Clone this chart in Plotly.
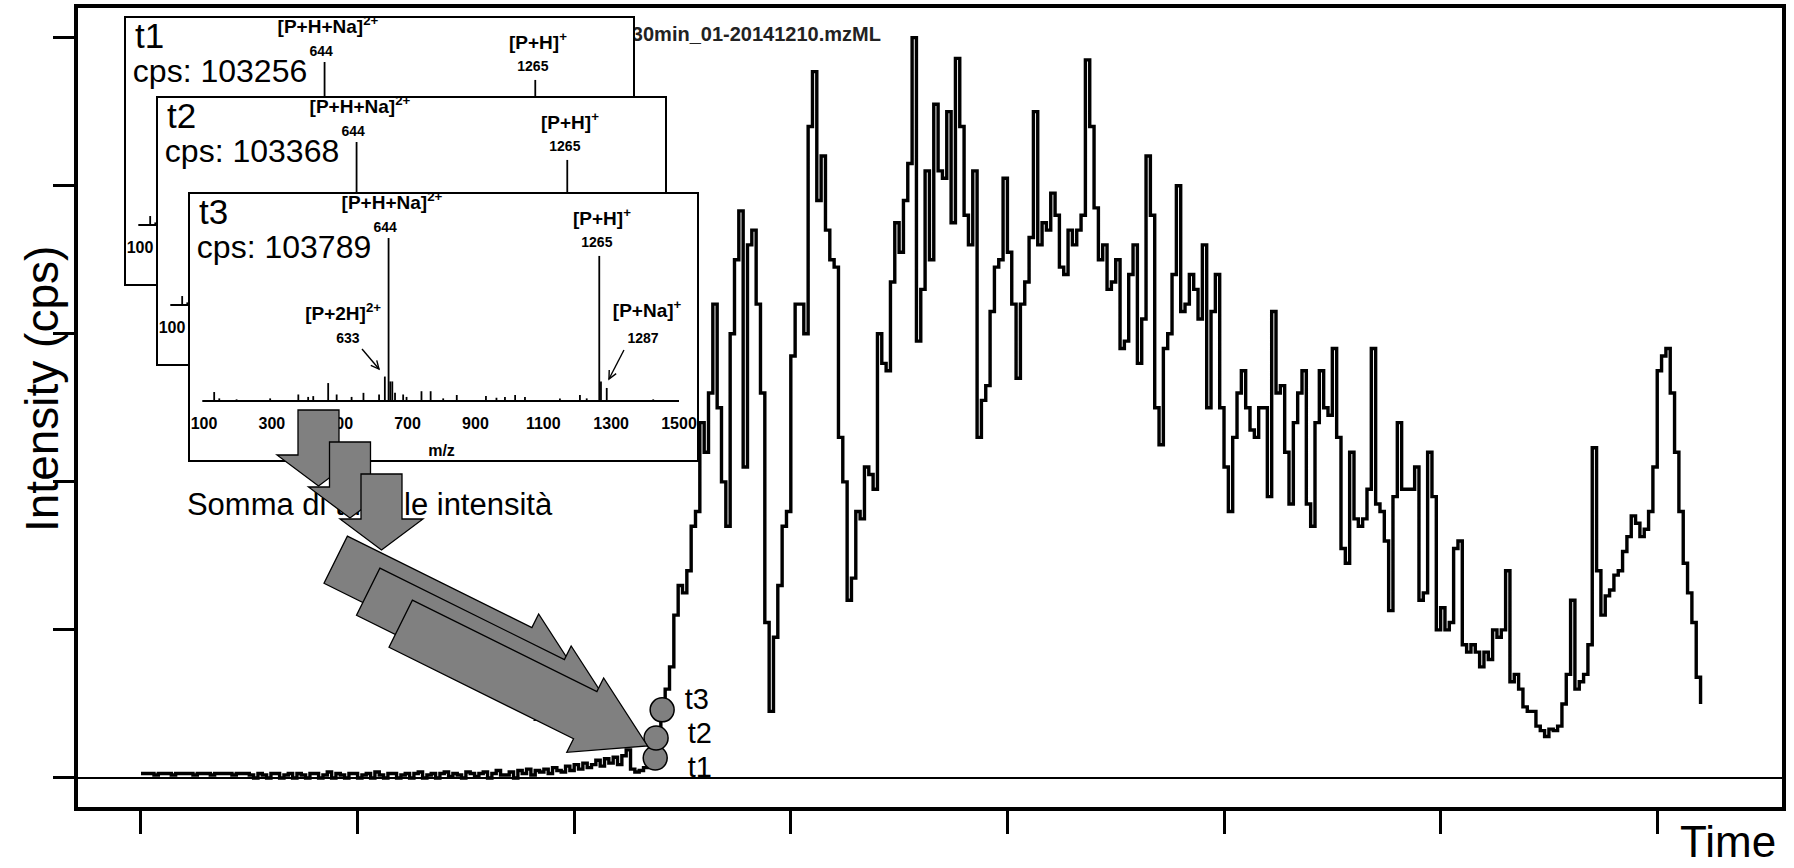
import math
import plotly.graph_objects as go

W, H = 1794, 868

# ---------------- data ----------------
# Total ion chromatogram: one value every 0.1 min, stored as segments (start time, values)
scan_interval_min = 0.1
tic_segment_start = [0.0, 2.6, 8.4, 11.7, 16.4, 23.6, 31.0]
tic_seg_a = [0.03, 0.03, 0.03, 0.02, 0.03, 0.03, 0.03, 0.02, 0.03, 0.03, 0.03, 0.03, 0.02,
             0.03, 0.03, 0.03, 0.02, 0.03, 0.03, 0.03, 0.03, 0.02, 0.03, 0.03, 0.03, 0.02]
tic_seg_b = [0.0, 0.03, 0.02, 0.0, 0.03, 0.03, 0.0, 0.02, 0.03, 0.0,
             0.03, 0.02, 0.0, 0.03, 0.03, 0.0, 0.02, 0.04, 0.0, 0.03,
             0.02, 0.0, 0.03, 0.03, 0.0, 0.02, 0.03, 0.0, 0.04, 0.02,
             0.0, 0.03, 0.03, 0.0, 0.02, 0.03, 0.0, 0.03, 0.04, 0.0,
             0.02, 0.03, 0.0, 0.03, 0.04, 0.01, 0.03, 0.02, 0.0, 0.04,
             0.03, 0.01, 0.03, 0.04, 0.0, 0.03, 0.05, 0.02]
tic_seg_c = [0.02, 0.04, 0.0, 0.05, 0.03, 0.06, 0.02, 0.05, 0.04, 0.06,
             0.03, 0.07, 0.05, 0.04, 0.08, 0.05, 0.09, 0.06, 0.1, 0.07,
             0.09, 0.12, 0.08, 0.13, 0.1, 0.14, 0.09, 0.15, 0.19, 0.06,
             0.04, 0.05, 0.07]
tic_seg_d = [0.08, 0.15, 0.3, 0.45, 0.6, 0.75, 1.1, 1.3, 1.25, 1.4,
             1.7, 1.8, 2.4, 2.2, 2.6, 3.2, 2.5, 2.0, 1.7, 3.0,
             3.5, 3.83, 2.1, 3.6, 3.7, 3.2, 2.6, 1.05, 0.45, 0.95,
             1.3, 1.7, 1.8, 2.85, 3.2, 3.2, 3.0, 4.4, 4.77, 3.9,
             4.2, 3.7, 3.5, 3.45, 2.3, 2.0, 1.2]
tic_seg_e = [1.35, 1.8, 1.75, 2.1, 2.05, 1.95,
             3.0, 2.8, 2.75, 3.35, 3.75, 3.55, 3.9, 4.15, 5.0, 2.95,
             3.3, 4.1, 3.5, 4.55, 4.1, 4.05, 4.5, 3.75, 4.86, 4.4,
             3.8, 3.6, 4.1, 2.3, 2.55, 2.65, 3.15, 3.45, 3.5, 4.05,
             3.55, 3.2, 2.7, 3.2, 3.35, 3.65, 4.5, 3.6, 3.75, 3.7,
             3.95, 3.8, 3.45, 3.4, 3.7, 3.6, 3.7, 3.8, 4.85, 4.4,
             3.85, 3.5, 3.6, 3.3, 3.35, 3.5, 2.9, 2.95, 3.4, 3.6,
             2.8, 3.1, 4.2, 3.8, 2.5, 2.25]
tic_seg_f = [2.9, 3.0, 3.4, 4.0,
             3.15, 3.2, 3.4, 3.3, 3.1, 3.6, 2.5, 3.15, 3.4, 2.5,
             2.1, 1.8, 2.3, 2.6, 2.75, 2.5, 2.35, 2.3, 2.5, 2.5,
             1.9, 3.15, 2.6, 2.65, 2.2, 1.85, 2.4, 2.6, 2.75, 1.85,
             1.7, 2.4, 2.75, 2.5, 2.45, 2.9, 2.3, 1.55, 1.45, 2.2,
             1.75, 1.7, 1.75, 1.95, 2.9, 1.85, 1.8, 1.6, 1.13, 1.9,
             2.4, 1.95, 1.95, 1.95, 2.1, 1.2, 1.25, 2.2, 1.9, 1.0,
             1.15, 1.0, 1.05, 1.55, 1.6, 0.9, 0.85, 0.9, 0.85, 0.75]
tic_seg_g = [0.85, 0.8, 1.0, 0.95, 1.0, 1.4, 0.65, 0.7, 0.6, 0.48,
             0.45, 0.45, 0.35, 0.32, 0.28, 0.33, 0.32, 0.35, 0.5, 0.7,
             1.2, 0.6, 0.65, 0.7, 0.9, 2.23, 1.4, 1.1, 1.23, 1.27,
             1.37, 1.4, 1.53, 1.63, 1.77, 1.72, 1.63, 1.68, 1.8, 2.1,
             2.75, 2.85, 2.9, 2.6, 2.2, 1.8, 1.45, 1.25, 1.05, 0.68,
             0.5]
tic_segments = [tic_seg_a, tic_seg_b, tic_seg_c, tic_seg_d, tic_seg_e, tic_seg_f, tic_seg_g]

time_ticks = [0, 5, 10, 15, 20, 25, 30, 35]
intensity_ticks = [0, 1, 2, 3, 4, 5]

# mass spectrum (relative intensity, base peak 644 = 100)
spec_mz = [130, 145, 196, 295, 378, 407, 422, 466, 491, 535, 570, 616, 633, 644, 649, 655,
           663, 687, 697, 741, 768, 805, 845, 931, 962, 987, 1017, 1046, 1149, 1208, 1228,
           1265, 1270, 1287, 1424]
spec_rel = [5.5, 1.6, 1.0, 1.6, 4.0, 2.5, 3.0, 11.0, 4.0, 2.5, 5.0, 4.0, 15.0, 100.0, 12.0, 12.0,
            5.0, 4.0, 2.5, 6.0, 6.0, 1.6, 3.7, 3.0, 2.0, 2.5, 3.7, 2.5, 1.6, 3.7, 1.6,
            89.0, 12.0, 8.0, 1.0]
mz_ticks = [100, 300, 500, 700, 900, 1100, 1300, 1500]
peak_mz = [644, 1265, 633, 1287]
peak_names = ["[P+H+Na]<sup>2+</sup>", "[P+H]<sup>+</sup>", "[P+2H]<sup>2+</sup>", "[P+Na]<sup>+</sup>"]

scan_labels = ["t1", "t2", "t3"]
scan_cps = [103256, 103368, 103789]
scan_time = [11.87, 11.89, 12.03]
scan_intensity = [0.135, 0.27, 0.46]

chrom_title_tail = "30min_01-20141210.mzML"
sum_text = "Somma di tutte le intensità"

# ---------------- figure ----------------
FONT = "Liberation Sans, Arial, sans-serif"
fig = go.Figure()

t_all, i_all = [], []
for start, seg in zip(tic_segment_start, tic_segments):
    for k, v in enumerate(seg):
        t_all.append(round(start + k * scan_interval_min, 2))
        i_all.append(v)

fig.add_trace(go.Scatter(x=t_all, y=i_all, mode="lines", line=dict(color="black", width=3.4, shape="hv"),
                         xaxis="x", yaxis="y", hoverinfo="skip"))
fig.add_trace(go.Scatter(x=[17.08], y=[5.01], mode="text", text=["<b>" + chrom_title_tail + "</b>"],
                         textposition="middle left", textfont=dict(family=FONT, size=20, color="#222"),
                         xaxis="x", yaxis="y", hoverinfo="skip"))
fig.add_trace(go.Scatter(x=[1.06], y=[1.83], mode="text", text=[sum_text], textposition="middle right",
                         textfont=dict(family=FONT, size=31, color="black"), xaxis="x", yaxis="y", hoverinfo="skip"))
fig.add_trace(go.Scatter(x=scan_time, y=scan_intensity, mode="markers",
                         marker=dict(size=24, color="#808080", line=dict(color="black", width=1.5)),
                         xaxis="x", yaxis="y", hoverinfo="skip"))
label_pos_t = [12.9, 12.9, 12.83]
label_pos_i = [0.055, 0.285, 0.515]
fig.add_trace(go.Scatter(x=label_pos_t, y=label_pos_i, mode="text", text=scan_labels, textposition="middle center",
                         textfont=dict(family=FONT, size=29, color="black"), xaxis="x", yaxis="y", hoverinfo="skip"))

# spectra insets
def stick_xy(mz, rel):
    xs, ys = [], []
    for m, r in zip(mz, rel):
        xs += [m, m, None]
        ys += [0, r, None]
    return xs, ys

sx, sy = stick_xy(spec_mz, spec_rel)
box_px = [(126, 18), (158, 98), (190, 194)]  # left, top of each inset box
BOX_W, BOX_H = 507, 266
x_rng = [58.74, 1553.05]
y_rng = [-36.2, 127.0]
name_dx = [10, 8, -123, 119]
name_y = [120.5, 111.0, 52.8, 54.6]
num_dx = [-10, -7, -109, 107]
num_y = [106.0, 96.5, 38.0, 38.0]

layout_axes = {}
for n, (lbl, cps, (bx, by)) in enumerate(zip(scan_labels, scan_cps, box_px)):
    ax_id = n + 2
    xa, ya = f"x{ax_id}", f"y{ax_id}"
    full = (n == 2)
    fig.add_trace(go.Scatter(x=[mz_ticks[0] - 5, mz_ticks[-1]], y=[0, 0], mode="lines",
                             line=dict(color="black", width=1.8), xaxis=xa, yaxis=ya, hoverinfo="skip"))
    fig.add_trace(go.Scatter(x=sx, y=sy, mode="lines", line=dict(color="black", width=1.8),
                             xaxis=xa, yaxis=ya, hoverinfo="skip"))
    ticks_shown = mz_ticks if full else mz_ticks[:1]
    fig.add_trace(go.Scatter(x=ticks_shown, y=[-14.7] * len(ticks_shown), mode="text",
                             text=[f"<b>{v}</b>" for v in ticks_shown], textposition="middle center",
                             textfont=dict(family=FONT, size=16, color="black"), xaxis=xa, yaxis=ya, hoverinfo="skip"))
    npk = 4 if full else 2
    fig.add_trace(go.Scatter(x=[peak_mz[j] + name_dx[j] for j in range(npk)], y=name_y[:npk], mode="text",
                             text=[f"<b>{peak_names[j]}</b>" for j in range(npk)], textposition="middle center",
                             textfont=dict(family=FONT, size=19, color="black"), xaxis=xa, yaxis=ya, hoverinfo="skip"))
    fig.add_trace(go.Scatter(x=[peak_mz[j] + num_dx[j] for j in range(npk)], y=num_y[:npk], mode="text",
                             text=[f"<b>{peak_mz[j]}</b>" for j in range(npk)], textposition="middle center",
                             textfont=dict(family=FONT, size=14, color="black"), xaxis=xa, yaxis=ya, hoverinfo="skip"))
    fig.add_trace(go.Scatter(x=[85], y=[114.1], mode="text", text=[lbl],
                             textposition="middle right", textfont=dict(family=FONT, size=35, color="black"),
                             xaxis=xa, yaxis=ya, hoverinfo="skip"))
    fig.add_trace(go.Scatter(x=[79], y=[92.6], mode="text", text=[f"cps: {cps}"],
                             textposition="middle right", textfont=dict(family=FONT, size=32, color="black"),
                             xaxis=xa, yaxis=ya, hoverinfo="skip"))
    if full:
        fig.add_trace(go.Scatter(x=[800], y=[-31.0], mode="text", text=["<b>m/z</b>"], textposition="middle center",
                                 textfont=dict(family=FONT, size=16, color="black"), xaxis=xa, yaxis=ya, hoverinfo="skip"))
    layout_axes[f"xaxis{ax_id}"] = dict(domain=[bx / W, (bx + BOX_W) / W], range=x_rng, anchor=ya,
                                        showgrid=False, zeroline=False, showticklabels=False, ticks="",
                                        showline=True, mirror=True, linecolor="black", linewidth=1.6, fixedrange=True)
    layout_axes[f"yaxis{ax_id}"] = dict(domain=[1 - (by + BOX_H) / H, 1 - by / H], range=y_rng, anchor=xa,
                                        showgrid=False, zeroline=False, showticklabels=False, ticks="",
                                        showline=True, mirror=True, linecolor="black", linewidth=1.6, fixedrange=True)

# ---------------- decorative shapes ----------------
def pp(x, y):
    return f"{x / W:.5f},{1 - y / H:.5f}"

def poly(points, close=True):
    return "M " + " L ".join(pp(x, y) for x, y in points) + (" Z" if close else "")

shapes = []
ARROW_STYLE = dict(type="path", xref="paper", yref="paper", fillcolor="#808080",
                   line=dict(color="black", width=1.3), layer="above")
for k in range(3):
    dx, dy = 31.5 * k, 32 * k
    pts = [(298 + dx, 410 + dy), (339 + dx, 410 + dy), (339 + dx, 455 + dy), (360 + dx, 455 + dy),
           (318.5 + dx, 486 + dy), (277 + dx, 455 + dy), (298 + dx, 455 + dy)]
    shapes.append(dict(path=poly(pts), **ARROW_STYLE))

tail = (400.7, 623.7)
tip = (647.5, 746.0)
L = math.hypot(tip[0] - tail[0], tip[1] - tail[1])
ux, uy = (tip[0] - tail[0]) / L, (tip[1] - tail[1]) / L
nx, ny = -uy, ux
ws, wh, hl = 26.3, 41.5, 69.5
for k in (2, 1, 0):
    ox, oy = -32.5 * k, -32 * k
    tx, ty = tail[0] + ox, tail[1] + oy
    px_, py_ = tip[0] + ox, tip[1] + oy
    bx_, by_ = px_ - hl * ux, py_ - hl * uy
    pts = [(tx - ws * nx, ty - ws * ny), (bx_ - ws * nx, by_ - ws * ny), (bx_ - wh * nx, by_ - wh * ny),
           (px_, py_), (bx_ + wh * nx, by_ + wh * ny), (bx_ + ws * nx, by_ + ws * ny),
           (tx + ws * nx, ty + ws * ny)]
    shapes.append(dict(path=poly(pts), **ARROW_STYLE))

# pointer arrows in the t3 spectrum (from label to peak), given in (m/z, intensity) units
def inset_px(mz, val, box):
    bx, by = box
    return (bx + (mz - x_rng[0]) * BOX_W / (x_rng[1] - x_rng[0]),
            by + (y_rng[1] - val) * BOX_H / (y_rng[1] - y_rng[0]))

pointer_from = [(565.7, 31.9), (1337.8, 31.3)]
pointer_to = [(615.8, 19.6), (1293.6, 13.5)]
for (m0, v0), (m1, v1) in zip(pointer_from, pointer_to):
    x0, y0 = inset_px(m0, v0, box_px[2])
    x1, y1 = inset_px(m1, v1, box_px[2])
    ln = math.hypot(x1 - x0, y1 - y0)
    dxu, dyu = (x1 - x0) / ln, (y1 - y0) / ln
    head = []
    for ang in (0.45, -0.45):
        ca, sa = math.cos(ang), math.sin(ang)
        rx, ry = -(dxu * ca - dyu * sa), -(dxu * sa + dyu * ca)
        head.append((x1 + 9 * rx, y1 + 9 * ry))
    shapes.append(dict(type="path", xref="paper", yref="paper", path=poly([(x0, y0), (x1, y1)], close=False),
                       line=dict(color="black", width=1.4), layer="above"))
    shapes.append(dict(type="path", xref="paper", yref="paper", path=poly([head[0], (x1, y1), head[1]], close=False),
                       line=dict(color="black", width=1.4), layer="above"))

annotations = [
    dict(text="Intensity (cps)", xref="paper", yref="paper", x=42 / W, y=1 - 389 / H, textangle=-90,
         showarrow=False, xanchor="center", yanchor="middle", font=dict(family=FONT, size=46, color="black")),
    dict(text="Time", xref="paper", yref="paper", x=1728 / W, y=1 - 841 / H, showarrow=False,
         xanchor="center", yanchor="middle", font=dict(family=FONT, size=44, color="black")),
]

fig.update_layout(
    width=W, height=H, margin=dict(l=0, r=0, t=0, b=0),
    paper_bgcolor="white", plot_bgcolor="white", showlegend=False,
    xaxis=dict(domain=[78 / W, 1782 / W], range=[-1.454, 37.88], tickvals=time_ticks, ticks="outside",
               ticklen=23, tickwidth=2.5, tickcolor="black", showticklabels=False, showgrid=False,
               zeroline=False, showline=True, mirror=True, linecolor="black", linewidth=3.5, fixedrange=True),
    yaxis=dict(domain=[1 - 807 / H, 1 - 8 / H], range=[-0.196, 5.2], tickvals=intensity_ticks, ticks="outside",
               ticklen=21, tickwidth=2.5, tickcolor="black", showticklabels=False, showgrid=False,
               zeroline=True, zerolinecolor="black", zerolinewidth=1.6,
               showline=True, mirror=True, linecolor="black", linewidth=3.5, fixedrange=True),
    shapes=shapes, annotations=annotations,
    **layout_axes,
)

fig.write_html("out.html", config={"displayModeBar": False},
               post_script="document.body.style.margin='0px';document.body.style.overflow='hidden';")
